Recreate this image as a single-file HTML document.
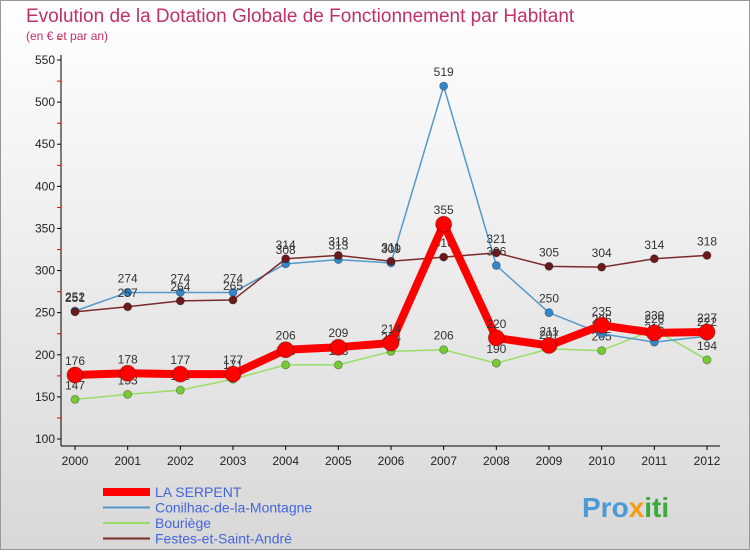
<!DOCTYPE html>
<html><head><meta charset="utf-8"><style>
body{margin:0;width:750px;height:550px;overflow:hidden;font-family:"Liberation Sans",sans-serif}
</style></head><body>
<svg width="750" height="550">
<defs><linearGradient id="bg" x1="0" y1="0" x2="0" y2="1"><stop offset="0" stop-color="#ffffff"/><stop offset="1" stop-color="#d8d8d8"/></linearGradient></defs>
<rect x="0.5" y="0.5" width="749" height="549" fill="url(#bg)" stroke="#999"/>
<text x="26" y="22" font-size="19" fill="#c0306a">Evolution de la Dotation Globale de Fonctionnement par Habitant</text>
<text x="26" y="40" font-size="12" fill="#c0306a">(en € et par an)</text>
<g id="axes"></g><g id="series"></g><g id="legend"></g>
<text x="582" y="517" font-size="28" font-weight="bold" fill="#4a9ad8">Pro<tspan fill="#f39c12">x</tspan><tspan fill="#3daa3d">iti</tspan></text>
</svg>
<script>
const years=[2000,2001,2002,2003,2004,2005,2006,2007,2008,2009,2010,2011,2012];
const yTicks=[100,150,200,250,300,350,400,450,500,550];
const laSerpent=[176,178,177,177,206,209,214,355,220,211,235,226,227];
const conilhac=[252,274,274,274,308,313,309,519,306,250,225,215,222];
const bouriege=[147,153,158,171,188,188,204,206,190,207,205,230,194];
const festes=[251,257,264,265,314,318,311,316,321,305,304,314,318];
const NS='http://www.w3.org/2000/svg';
const xs=i=>75+i*(632/12);
const ys=v=>439-(v-100)*(379/450);
function mk(t,a,p){const e=document.createElementNS(NS,t);for(const k in a)e.setAttribute(k,a[k]);p.appendChild(e);return e;}
const ax=document.getElementById('axes');
let l=mk('line',{x1:61,y1:55,x2:61,y2:446,stroke:'#000'},ax);


l=mk('line',{x1:61,y1:446,x2:720,y2:446,stroke:'#000'},ax);


yTicks.forEach(v=>{const y=ys(v);
 mk('line',{x1:57,y1:y,x2:61,y2:y,stroke:'#000'},ax);
 mk('line',{x1:57,y1:y-21,x2:61,y2:y-21,stroke:'#e00'},ax);
 const t=mk('text',{x:55,y:y+4,'font-size':12,'text-anchor':'end',fill:'#222'},ax);t.textContent=v;
 
 
});
years.forEach((yr,i)=>{const x=xs(i);
 mk('line',{x1:x,y1:446,x2:x,y2:450,stroke:'#000'},ax);
 const t=mk('text',{x:x,y:465,'font-size':12,'text-anchor':'middle',fill:'#222'},ax);t.textContent=yr;
 
 
});
const sg=document.getElementById('series');
const defs=[
 {d:bouriege,c:'#99dd66',dot:'#77cc33',w:1.5,r:4,n:'bouriege'},
 {d:conilhac,c:'#5599cc',dot:'#3388cc',w:1.5,r:4,n:'conilhac'},
 {d:festes,c:'#7a2b2b',dot:'#6a1a1a',w:1.5,r:4,n:'festes'},
 {d:laSerpent,c:'#ff0000',dot:'#ff0000',w:8,r:8,n:'la-serpent'}];
defs.forEach(s=>{
 const g=mk('g',{},sg);
 
 
 const p=mk('polyline',{points:s.d.map((v,i)=>xs(i)+','+ys(v)).join(' '),fill:'none',stroke:s.c,'stroke-width':s.w,'stroke-linejoin':'round'},g);
 
 
 s.d.forEach((v,i)=>{
  const c=mk('circle',{cx:xs(i),cy:ys(v),r:s.r,fill:s.dot,stroke:'rgba(0,0,0,0.3)'},g);
  
  
  const t=mk('text',{x:xs(i),y:ys(v)-10,'font-size':12,'text-anchor':'middle',fill:'#333'},g);t.textContent=v;
  
  
 });
});
const lg=document.getElementById('legend');
const items=[['LA SERPENT','#ff0000',8],['Conilhac-de-la-Montagne','#5599cc',2],['Bouriège','#99dd66',2],['Festes-et-Saint-André','#7a2b2b',2]];
items.forEach((it,i)=>{const y=492+i*15.5;
 const g=mk('g',{},lg);
 
 
 mk('line',{x1:103,y1:y,x2:150,y2:y,stroke:it[1],'stroke-width':it[2]},g);
 const t=mk('text',{x:155,y:y+5,'font-size':14,fill:'#4466dd'},g);t.textContent=it[0];
});
</script>
</body></html>
